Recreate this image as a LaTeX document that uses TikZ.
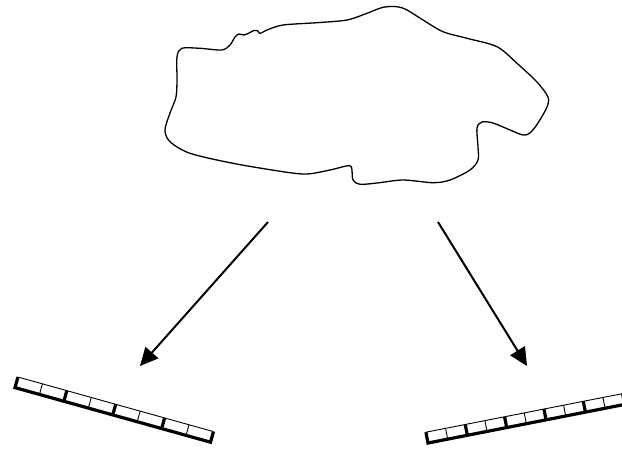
\documentclass[tikz,border=0pt]{standalone}
\usetikzlibrary{arrows.meta}
\begin{document}
\begin{tikzpicture}[x=1pt,y=-1pt,
  outline/.style={line width=1.3pt, line join=round},
  ray/.style={line width=2pt, -{Triangle[length=18pt,width=17pt]}},
  thinrule/.style={line width=0.9pt},
  thickrule/.style={line width=3.2pt, line cap=square}]
\clip (0,0) rectangle (622,448);
\fill[white] (0,0) rectangle (622,448);
% cloud
\draw[outline] plot[smooth cycle, tension=0.5] coordinates {
(181.7,48.3) (200,48.3) (221.7,50) (230,45) (235,37) (239,34) (244,35) (249,33) (254,30.5) (258,31) (260,33.5) (267,30) (283,25) (317,22.7) (347,20) (367,13.3) (383,7.3) (397,6.7) (407,10) (423,20) (443,31.7) (467,38.3) (497,46.7) (517,63.3) (537,82) (548,97) (547,107) (538,123) (530,133) (523,135) (510,130) (493,123) (482,122) (477,128) (478,147) (478,160) (470,170) (450,180) (433,182.7) (403,180) (377,183) (360,184.3) (353,180) (351.7,168) (348,165.7) (330,170) (307,174) (283,171.7) (233,163.3) (190,153.3) (170,141.7) (165,130) (170,113) (176,97) (177,80) (177,57)};
% arrows
\coordinate (ls) at (268,222);
\coordinate (le) at (140,366);
\coordinate (rs) at (438,222);
\coordinate (re) at (527,366);
\draw[ray] (ls) -- (le);
\draw[ray] (rs) -- (re);
% left bar
\begin{scope}[shift={(15,387.6)}, rotate=-15.6]
  \draw[thinrule] (0,-11) -- (203,-11);
  \foreach \i in {1,3,5,7} \draw[thinrule] (\i*25.375,0) -- (\i*25.375,-11);
  \foreach \i in {2,4,6} \draw[thickrule] (\i*25.375,0) -- (\i*25.375,-11);
  \draw[thickrule] (0,-11) -- (0,0) -- (203,0) -- (203,-11);
\end{scope}
% right bar
\begin{scope}[shift={(428,443)}, rotate=11.1]
  \draw[thinrule] (0,-11) -- (240,-11);
  \foreach \i in {1,3,5,7,9,11} \draw[thinrule] (\i*20.05,0) -- (\i*20.05,-11);
  \foreach \i in {2,4,6,8,10} \draw[thickrule] (\i*20.05,0) -- (\i*20.05,-11);
  \draw[thickrule] (0,-11) -- (0,0) -- (240,0);
\end{scope}
\end{tikzpicture}
\end{document}
